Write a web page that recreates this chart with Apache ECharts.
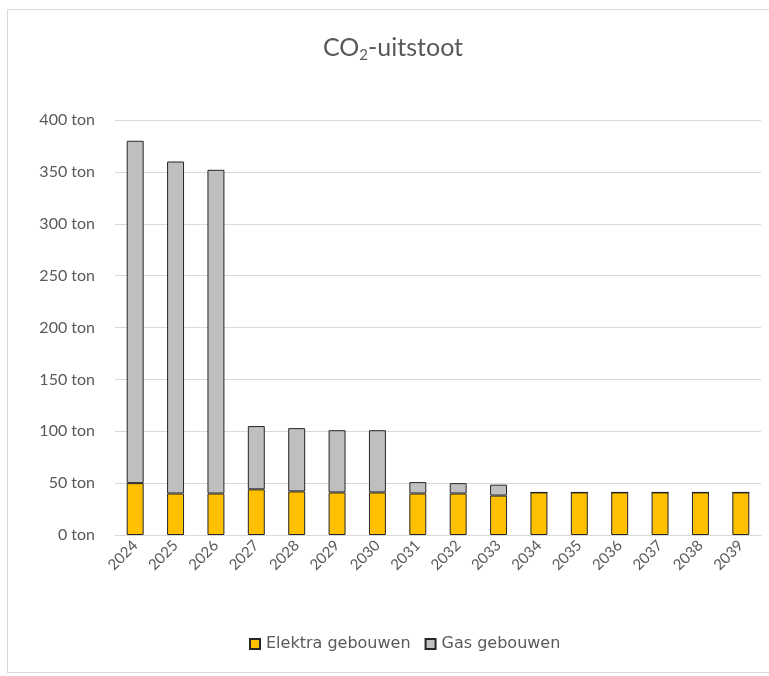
<!DOCTYPE html>
<html>
<head>
<meta charset="utf-8">
<script src="https://cdn.jsdelivr.net/npm/echarts@6/dist/echarts.min.js"></script>
<style>
  html, body { margin: 0; padding: 0; background: #ffffff; }
  #frame { position: absolute; left: 7px; top: 9px; width: 770px; height: 664px; border: 1px solid #d9d9d9; box-sizing: border-box; }
  #chart { position: absolute; left: 0; top: 0; width: 769px; height: 676px; }
</style>
</head>
<body>
<div id="frame"></div>
<div id="chart"></div>
<script>
// Years on the category axis
const years = ['2024','2025','2026','2027','2028','2029','2030','2031','2032','2033','2034','2035','2036','2037','2038','2039'];
// CO2 emissions per building group, in tonnes
const elektraGebouwen = [50, 40, 40, 44, 42, 41, 41, 40, 40, 38, 41, 41, 41, 41, 41, 41];
const gasGebouwen     = [330, 320, 312, 61, 61, 60, 60, 11, 10, 10.5, 0, 0, 0, 0, 0, 0];
// Value axis ticks
const yTicks = [0, 50, 100, 150, 200, 250, 300, 350, 400];

const FONT = 'Lato, "Open Sans", sans-serif';
const TEXT = '#595959';

const chart = echarts.init(document.getElementById('chart'), null, { renderer: 'canvas' });
chart.setOption({
  animation: false,
  title: {
    text: 'CO{sub|2}-uitstoot',
    left: 318,
    top: 27,
    textStyle: {
      fontFamily: FONT, fontSize: 25, fontWeight: 'normal', color: TEXT,
      rich: { sub: { fontFamily: FONT, fontSize: 15, color: TEXT, padding: [16, 0, 0, 0] } }
    }
  },
  legend: {
    bottom: 19,
    left: 244,
    itemWidth: 10,
    itemHeight: 10,
    itemGap: 14,
    icon: 'rect',
    textStyle: { fontFamily: '"DejaVu Sans", sans-serif', fontSize: 16, color: TEXT, padding: [0, 0, 0, 1] },
    data: ['Elektra gebouwen', 'Gas gebouwen']
  },
  grid: { left: 115, right: 8, top: 120, bottom: 141, containLabel: false },
  xAxis: {
    type: 'category',
    data: years,
    axisLine: { show: true, lineStyle: { color: '#d9d9d9' } },
    axisTick: { show: false },
    axisLabel: { rotate: 45, fontFamily: FONT, fontSize: 15, color: TEXT, margin: 8, interval: 0 }
  },
  yAxis: {
    type: 'value',
    min: yTicks[0],
    max: yTicks[yTicks.length - 1],
    interval: 50,
    axisLine: { show: false },
    axisTick: { show: false },
    splitLine: { lineStyle: { color: '#d9d9d9', width: 1 } },
    axisLabel: { fontFamily: FONT, fontSize: 16, color: TEXT, margin: 20, formatter: v => v + ' ton' }
  },
  series: [
    {
      name: 'Elektra gebouwen',
      type: 'bar',
      stack: 'co2',
      data: elektraGebouwen,
      barWidth: '42%',
      itemStyle: { color: '#ffc000', borderColor: '#262626', borderWidth: 1 }
    },
    {
      name: 'Gas gebouwen',
      type: 'bar',
      stack: 'co2',
      data: gasGebouwen,
      barWidth: '42%',
      itemStyle: { color: '#bfbfbf', borderColor: '#262626', borderWidth: 1 }
    }
  ]
});
</script>
</body>
</html>
